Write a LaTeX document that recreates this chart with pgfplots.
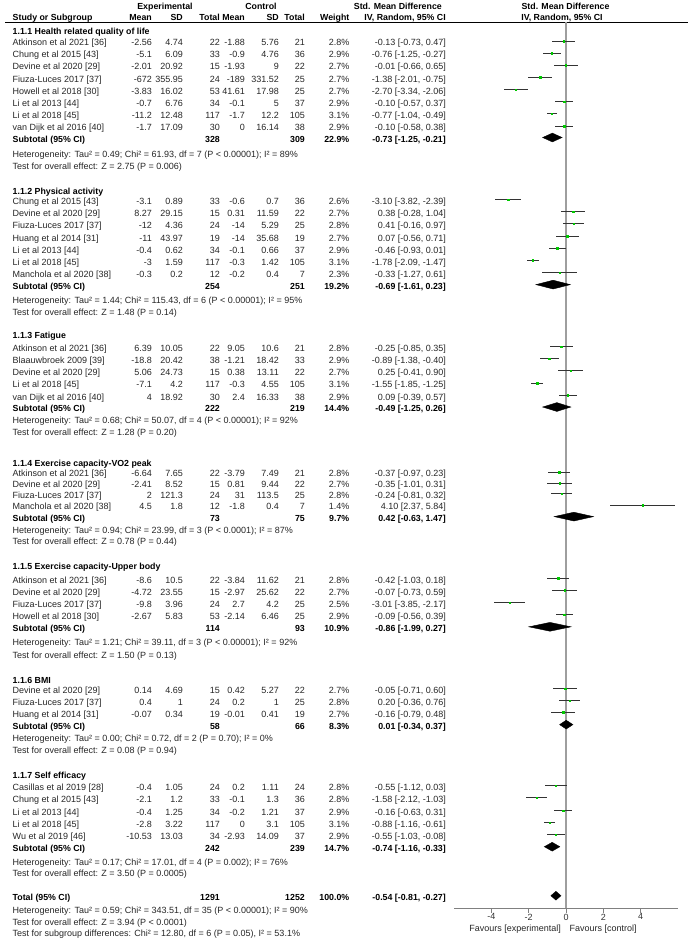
\documentclass[border=0pt]{standalone}
\usepackage{pgfplots}
\usepackage{pgfplotstable}
\usepackage{fontspec}
\pgfplotsset{compat=1.18}
\setmainfont{Liberation Sans}

\newcommand\fs{\fontsize{9}{10.5}\selectfont}
\newcommand\fb{\fontsize{8.8}{10.5}\selectfont\bfseries}
\definecolor{ptgreen}{RGB}{0,200,0}

\tikzset{
  L/.style={anchor=base west, inner sep=0pt, font=\fs, text=black!85},
  R/.style={anchor=base east, inner sep=0pt, font=\fs, text=black!85},
  LB/.style={anchor=base west, inner sep=0pt, font=\fb, text=black},
  RB/.style={anchor=base east, inner sep=0pt, font=\fb, text=black},
  CB/.style={anchor=base, inner sep=0pt, font=\fb, text=black},
}

% one study row: y of its CI line, name, exp mean/sd/n, ctl mean/sd/n, weight, then CI text
\newcommand\study[9]{%
  \def\ry{#1}%
  \node[L] at (12.5,{-(#1+4.8)}) {#2};
  \node[R] at (152,{-(#1+4.8)}) {#3};
  \node[R] at (183,{-(#1+4.8)}) {#4};
  \node[R] at (220,{-(#1+4.8)}) {#5};
  \node[R] at (245,{-(#1+4.8)}) {#6};
  \node[R] at (279,{-(#1+4.8)}) {#7};
  \node[R] at (305,{-(#1+4.8)}) {#8};
  \node[R] at (349.5,{-(#1+4.8)}) {#9};
  \studyci}
\newcommand\studyci[1]{\node[R] at (446,{-(\ry+4.8)}) {#1};}

\newcommand\subtot[6]{%
  \node[LB] at (12.5,{-(#1+4.8)}) {#2};
  \node[RB] at (220,{-(#1+4.8)}) {#3};
  \node[RB] at (305,{-(#1+4.8)}) {#4};
  \node[RB] at (349.5,{-(#1+4.8)}) {#5};
  \node[RB] at (446,{-(#1+4.8)}) {#6};}

\newcommand\txt[2]{\node[L] at (12.5,{-(#1+3.2)}) {#2};}
\newcommand\grp[2]{\node[LB] at (12.5,{-(#1+3.2)}) {#2};}

% study estimates: y (pixel row), estimate, lower, upper
\pgfplotstableread{
y est lo hi
41 -0.13 -0.73 0.47
53 -0.76 -1.25 -0.27
65 -0.01 -0.66 0.65
77.3 -1.38 -2.01 -0.75
89.5 -2.70 -3.34 -2.06
101.7 -0.10 -0.57 0.37
113.8 -0.77 -1.04 -0.49
126 -0.10 -0.58 0.38
199.5 -3.10 -3.82 -2.39
211.7 0.38 -0.28 1.04
223.8 0.41 -0.16 0.97
236.3 0.07 -0.56 0.71
248.4 -0.46 -0.93 0.01
260.4 -1.78 -2.09 -1.47
272.6 -0.33 -1.27 0.61
346.5 -0.25 -0.85 0.35
358.6 -0.89 -1.38 -0.40
370.8 0.25 -0.41 0.90
383 -1.55 -1.85 -1.25
395.2 0.09 -0.39 0.57
472 -0.37 -0.97 0.23
483 -0.35 -1.01 0.31
493.7 -0.24 -0.81 0.32
505 4.10 2.37 5.84
578.3 -0.42 -1.03 0.18
590.3 -0.07 -0.73 0.59
602.7 -3.01 -3.85 -2.17
614.8 -0.09 -0.56 0.39
688.8 -0.05 -0.71 0.60
700.5 0.20 -0.36 0.76
712.2 -0.16 -0.79 0.48
785.7 -0.55 -1.12 0.03
797.8 -1.58 -2.12 -1.03
810.7 -0.16 -0.63 0.31
822.7 -0.88 -1.16 -0.61
834.7 -0.55 -1.03 -0.08
}\studies

\begin{document}
\begin{tikzpicture}[x=1pt,y=1pt]
\path[use as bounding box] (0,0) rectangle (690,-942);

% headers
\node[CB] at (165,-10) {Experimental};
\node[CB] at (261,-10) {Control};
\node[RB] at (442,-10) {Std. Mean Difference};
\node[CB] at (565.5,-10) {Std. Mean Difference};
\node[LB] at (12.5,-20.4) {Study or Subgroup};
\node[RB] at (152,-20.4) {Mean};
\node[RB] at (183,-20.4) {SD};
\node[RB] at (220,-20.4) {Total};
\node[RB] at (245,-20.4) {Mean};
\node[RB] at (279,-20.4) {SD};
\node[RB] at (305,-20.4) {Total};
\node[RB] at (349.5,-20.4) {Weight};
\node[RB] at (446,-20.4) {IV, Random, 95\% CI};
\node[CB] at (562,-20.4) {IV, Random, 95\% CI};
\draw[line width=1.2pt] (5,-22.6) -- (688,-22.6);

% 1.1.1
\grp{31.5}{1.1.1 Health related quality of life}
\study{41}{Atkinson et al 2021 [36]}{-2.56}{4.74}{22}{-1.88}{5.76}{21}{2.8\%}{-0.13 [-0.73, 0.47]}
\study{53}{Chung et al 2015 [43]}{-5.1}{6.09}{33}{-0.9}{4.76}{36}{2.9\%}{-0.76 [-1.25, -0.27]}
\study{65}{Devine et al 2020 [29]}{-2.01}{20.92}{15}{-1.93}{9}{22}{2.7\%}{-0.01 [-0.66, 0.65]}
\study{77.3}{Fiuza-Luces 2017 [37]}{-672}{355.95}{24}{-189}{331.52}{25}{2.7\%}{-1.38 [-2.01, -0.75]}
\study{89.5}{Howell et al 2018 [30]}{-3.83}{16.02}{53}{41.61}{17.98}{25}{2.7\%}{-2.70 [-3.34, -2.06]}
\study{101.7}{Li et al 2013 [44]}{-0.7}{6.76}{34}{-0.1}{5}{37}{2.9\%}{-0.10 [-0.57, 0.37]}
\study{113.8}{Li et al 2018 [45]}{-11.2}{12.48}{117}{-1.7}{12.2}{105}{3.1\%}{-0.77 [-1.04, -0.49]}
\study{126}{van Dijk et al 2016 [40]}{-1.7}{17.09}{30}{0}{16.14}{38}{2.9\%}{-0.10 [-0.58, 0.38]}
\subtot{137.5}{Subtotal (95\% CI)}{328}{309}{22.9\%}{-0.73 [-1.25, -0.21]}
\txt{154}{Heterogeneity: Tau² = 0.49; Chi² = 61.93, df = 7 (P < 0.00001); I² = 89\%}
\txt{166}{Test for overall effect: Z = 2.75 (P = 0.006)}

% 1.1.2
\grp{191.7}{1.1.2 Physical activity}
\study{199.5}{Chung et al 2015 [43]}{-3.1}{0.89}{33}{-0.6}{0.7}{36}{2.6\%}{-3.10 [-3.82, -2.39]}
\study{211.7}{Devine et al 2020 [29]}{8.27}{29.15}{15}{0.31}{11.59}{22}{2.7\%}{0.38 [-0.28, 1.04]}
\study{223.8}{Fiuza-Luces 2017 [37]}{-12}{4.36}{24}{-14}{5.29}{25}{2.8\%}{0.41 [-0.16, 0.97]}
\study{236.3}{Huang et al 2014 [31]}{-11}{43.97}{19}{-14}{35.68}{19}{2.7\%}{0.07 [-0.56, 0.71]}
\study{248.4}{Li et al 2013 [44]}{-0.4}{0.62}{34}{-0.1}{0.66}{37}{2.9\%}{-0.46 [-0.93, 0.01]}
\study{260.4}{Li et al 2018 [45]}{-3}{1.59}{117}{-0.3}{1.42}{105}{3.1\%}{-1.78 [-2.09, -1.47]}
\study{272.6}{Manchola et al 2020 [38]}{-0.3}{0.2}{12}{-0.2}{0.4}{7}{2.3\%}{-0.33 [-1.27, 0.61]}
\subtot{284.6}{Subtotal (95\% CI)}{254}{251}{19.2\%}{-0.69 [-1.61, 0.23]}
\txt{300.7}{Heterogeneity: Tau² = 1.44; Chi² = 115.43, df = 6 (P < 0.00001); I² = 95\%}
\txt{312.7}{Test for overall effect: Z = 1.48 (P = 0.14)}

% 1.1.3
\grp{335}{1.1.3 Fatigue}
\study{346.5}{Atkinson et al 2021 [36]}{6.39}{10.05}{22}{9.05}{10.6}{21}{2.8\%}{-0.25 [-0.85, 0.35]}
\study{358.6}{Blaauwbroek 2009 [39]}{-18.8}{20.42}{38}{-1.21}{18.42}{33}{2.9\%}{-0.89 [-1.38, -0.40]}
\study{370.8}{Devine et al 2020 [29]}{5.06}{24.73}{15}{0.38}{13.11}{22}{2.7\%}{0.25 [-0.41, 0.90]}
\study{383}{Li et al 2018 [45]}{-7.1}{4.2}{117}{-0.3}{4.55}{105}{3.1\%}{-1.55 [-1.85, -1.25]}
\study{395.2}{van Dijk et al 2016 [40]}{4}{18.92}{30}{2.4}{16.33}{38}{2.9\%}{0.09 [-0.39, 0.57]}
\subtot{407}{Subtotal (95\% CI)}{222}{219}{14.4\%}{-0.49 [-1.25, 0.26]}
\txt{420.3}{Heterogeneity: Tau² = 0.68; Chi² = 50.07, df = 4 (P < 0.00001); I² = 92\%}
\txt{432.3}{Test for overall effect: Z = 1.28 (P = 0.20)}

% 1.1.4
\grp{463.3}{1.1.4 Exercise capacity-VO2 peak}
\study{472}{Atkinson et al 2021 [36]}{-6.64}{7.65}{22}{-3.79}{7.49}{21}{2.8\%}{-0.37 [-0.97, 0.23]}
\study{483}{Devine et al 2020 [29]}{-2.41}{8.52}{15}{0.81}{9.44}{22}{2.7\%}{-0.35 [-1.01, 0.31]}
\study{493.7}{Fiuza-Luces 2017 [37]}{2}{121.3}{24}{31}{113.5}{25}{2.8\%}{-0.24 [-0.81, 0.32]}
\study{505}{Manchola et al 2020 [38]}{4.5}{1.8}{12}{-1.8}{0.4}{7}{1.4\%}{4.10 [2.37, 5.84]}
\subtot{516.6}{Subtotal (95\% CI)}{73}{75}{9.7\%}{0.42 [-0.63, 1.47]}
\txt{530}{Heterogeneity: Tau² = 0.94; Chi² = 23.99, df = 3 (P < 0.0001); I² = 87\%}
\txt{541.7}{Test for overall effect: Z = 0.78 (P = 0.44)}

% 1.1.5
\grp{566.7}{1.1.5 Exercise capacity-Upper body}
\study{578.3}{Atkinson et al 2021 [36]}{-8.6}{10.5}{22}{-3.84}{11.62}{21}{2.8\%}{-0.42 [-1.03, 0.18]}
\study{590.3}{Devine et al 2020 [29]}{-4.72}{23.55}{15}{-2.97}{25.62}{22}{2.7\%}{-0.07 [-0.73, 0.59]}
\study{602.7}{Fiuza-Luces 2017 [37]}{-9.8}{3.96}{24}{2.7}{4.2}{25}{2.5\%}{-3.01 [-3.85, -2.17]}
\study{614.8}{Howell et al 2018 [30]}{-2.67}{5.83}{53}{-2.14}{6.46}{25}{2.9\%}{-0.09 [-0.56, 0.39]}
\subtot{626.8}{Subtotal (95\% CI)}{114}{93}{10.9\%}{-0.86 [-1.99, 0.27]}
\txt{642.5}{Heterogeneity: Tau² = 1.21; Chi² = 39.11, df = 3 (P < 0.00001); I² = 92\%}
\txt{655}{Test for overall effect: Z = 1.50 (P = 0.13)}

% 1.1.6
\grp{680}{1.1.6 BMI}
\study{688.8}{Devine et al 2020 [29]}{0.14}{4.69}{15}{0.42}{5.27}{22}{2.7\%}{-0.05 [-0.71, 0.60]}
\study{700.5}{Fiuza-Luces 2017 [37]}{0.4}{1}{24}{0.2}{1}{25}{2.8\%}{0.20 [-0.36, 0.76]}
\study{712.2}{Huang et al 2014 [31]}{-0.07}{0.34}{19}{-0.01}{0.41}{19}{2.7\%}{-0.16 [-0.79, 0.48]}
\subtot{724.6}{Subtotal (95\% CI)}{58}{66}{8.3\%}{0.01 [-0.34, 0.37]}
\txt{738}{Heterogeneity: Tau² = 0.00; Chi² = 0.72, df = 2 (P = 0.70); I² = 0\%}
\txt{750}{Test for overall effect: Z = 0.08 (P = 0.94)}

% 1.1.7
\grp{775}{1.1.7 Self efficacy}
\study{785.7}{Casillas et al 2019 [28]}{-0.4}{1.05}{24}{0.2}{1.11}{24}{2.8\%}{-0.55 [-1.12, 0.03]}
\study{797.8}{Chung et al 2015 [43]}{-2.1}{1.2}{33}{-0.1}{1.3}{36}{2.8\%}{-1.58 [-2.12, -1.03]}
\study{810.7}{Li et al 2013 [44]}{-0.4}{1.25}{34}{-0.2}{1.21}{37}{2.9\%}{-0.16 [-0.63, 0.31]}
\study{822.7}{Li et al 2018 [45]}{-2.8}{3.22}{117}{0}{3.1}{105}{3.1\%}{-0.88 [-1.16, -0.61]}
\study{834.7}{Wu et al 2019 [46]}{-10.53}{13.03}{34}{-2.93}{14.09}{37}{2.9\%}{-0.55 [-1.03, -0.08]}
\subtot{846.7}{Subtotal (95\% CI)}{242}{239}{14.7\%}{-0.74 [-1.16, -0.33]}
\txt{862}{Heterogeneity: Tau² = 0.17; Chi² = 17.01, df = 4 (P = 0.002); I² = 76\%}
\txt{873.5}{Test for overall effect: Z = 3.50 (P = 0.0005)}

% total
\subtot{895.7}{Total (95\% CI)}{1291}{1252}{100.0\%}{-0.54 [-0.81, -0.27]}
\txt{910}{Heterogeneity: Tau² = 0.59; Chi² = 343.51, df = 35 (P < 0.00001); I² = 90\%}
\txt{922}{Test for overall effect: Z = 3.94 (P < 0.0001)}
\txt{933.5}{Test for subgroup differences: Chi² = 12.80, df = 6 (P = 0.05), I² = 53.1\%}

\node[R] at (561,-931.5) {Favours [experimental]};
\node[L] at (569.5,-931.5) {Favours [control]};

\begin{axis}[
  at={(454pt,-908pt)}, anchor=south west,
  scale only axis, width=224pt, height=886pt,
  xmin=-6, xmax=6, ymin=22, ymax=908, y dir=reverse,
  axis x line=bottom, axis y line=none,
  axis line style={black!50, line width=1pt, -},
  xtick={-4,-2,0,2,4}, ytick=\empty,
  tick align=outside, major tick length=4.5pt,
  tick style={black!50, line width=0.8pt},
  xticklabel style={font=\fs, text=black!80, inner sep=1pt},
  /pgf/number format/assume math mode=true,
  clip=false,
]
\addplot[black!38, line width=1.6pt] coordinates {(0,22) (0,908)};
\addplot[only marks, mark=square*, mark size=0.75pt, ptgreen,
  error bars/.cd, x dir=both, x explicit, error mark=none,
  error bar style={black!80, line width=0.9pt}]
  table[x=est, y=y, x error minus expr=\thisrow{est}-\thisrow{lo},
        x error plus expr=\thisrow{hi}-\thisrow{est}] {\studies};
% pooled diamonds
\addplot[fill=black, draw=black] coordinates {(-1.25,137.5) (-0.73,133.1) (-0.21,137.5) (-0.73,141.9)} -- cycle;
\addplot[fill=black, draw=black] coordinates {(-1.61,284.6) (-0.69,280.2) (0.23,284.6) (-0.69,289.0)} -- cycle;
\addplot[fill=black, draw=black] coordinates {(-1.25,407) (-0.49,402.6) (0.26,407) (-0.49,411.4)} -- cycle;
\addplot[fill=black, draw=black] coordinates {(-0.63,516.6) (0.42,512.2) (1.47,516.6) (0.42,521.0)} -- cycle;
\addplot[fill=black, draw=black] coordinates {(-1.99,626.8) (-0.86,622.4) (0.27,626.8) (-0.86,631.2)} -- cycle;
\addplot[fill=black, draw=black] coordinates {(-0.34,724.6) (0.01,720.2) (0.37,724.6) (0.01,729.0)} -- cycle;
\addplot[fill=black, draw=black] coordinates {(-1.16,846.7) (-0.74,842.3) (-0.33,846.7) (-0.74,851.1)} -- cycle;
\addplot[fill=black, draw=black] coordinates {(-0.81,895.7) (-0.54,891.3) (-0.27,895.7) (-0.54,900.1)} -- cycle;
\end{axis}
\end{tikzpicture}
\end{document}
